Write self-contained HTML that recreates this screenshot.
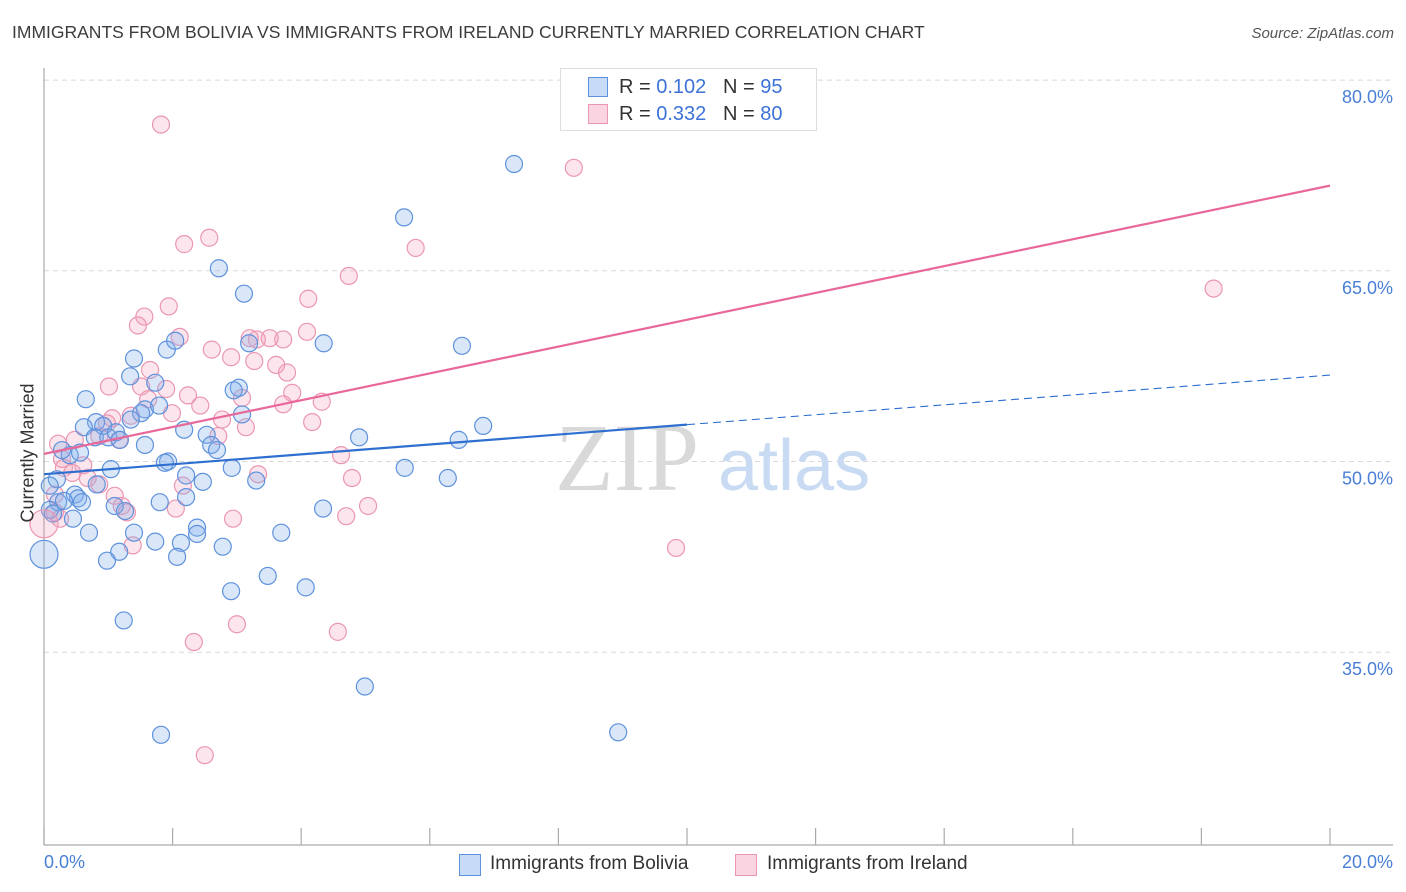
<!DOCTYPE html>
<html><head><meta charset="utf-8">
<style>
body{margin:0;background:#fff;font-family:"Liberation Sans",sans-serif;}
#wrap{position:relative;width:1406px;height:892px;overflow:hidden;}
.t{position:absolute;white-space:nowrap;}
</style></head>
<body>
<div id="wrap">
<div class="t" style="left:12px;top:22px;font-size:17.5px;color:#3c3c3c;">IMMIGRANTS FROM BOLIVIA VS IMMIGRANTS FROM IRELAND CURRENTLY MARRIED CORRELATION CHART</div>
<div class="t" style="right:12px;top:25px;font-size:15px;color:#555;font-style:italic;">Source: ZipAtlas.com</div>
<svg id="svg" width="1406" height="892" style="position:absolute;left:0;top:0"></svg>
</div>
<script>
const blueX=[7.31,5.60,2.72,3.11,4.35,6.50,1.91,2.04,1.40,3.19,1.34,1.73,3.03,2.95,0.65,1.57,1.51,1.79,1.35,0.81,0.62,0.92,0.79,1.00,1.12,1.18,2.18,3.08,2.53,2.60,2.69,4.90,6.45,6.83,1.57,0.40,0.56,0.28,1.93,1.88,1.04,2.21,2.92,3.30,5.61,6.28,0.20,0.82,0.48,0.53,0.59,0.22,0.31,0.09,1.10,1.26,1.80,2.21,2.47,4.34,0.45,0.70,0.14,1.40,1.73,2.13,2.38,2.38,2.78,3.69,1.17,0.98,2.07,3.48,4.07,2.91,1.24,4.99,1.82,8.93,0.09];
const blueY=[73.4,69.2,65.2,63.2,59.3,59.1,58.8,59.5,58.1,59.3,56.7,56.2,55.8,55.6,54.9,54.1,53.8,54.4,53.3,53.1,52.7,52.8,51.9,51.9,52.3,51.7,52.5,53.7,52.1,51.3,50.9,51.9,51.7,52.8,51.3,50.5,50.7,50.9,50.0,49.9,49.4,48.9,49.5,48.5,49.5,48.7,48.6,48.2,47.4,47.1,46.8,46.8,46.9,46.2,46.5,46.1,46.8,47.2,48.4,46.3,45.5,44.4,45.9,44.4,43.7,43.6,44.8,44.3,43.3,44.4,42.9,42.2,42.5,41.0,40.1,39.8,37.5,32.3,28.5,28.7,48.1];
const pinkX=[11.16,1.82,8.24,2.18,2.57,5.78,4.74,4.11,1.56,1.46,1.94,2.11,2.61,3.72,3.51,3.31,3.20,4.09,2.91,3.27,3.61,3.78,1.65,1.01,1.51,1.90,2.24,2.43,3.86,4.32,3.72,3.08,1.35,1.06,1.62,1.99,2.77,3.14,0.98,1.17,0.86,2.71,4.17,0.22,0.48,0.31,0.61,0.44,0.68,0.86,4.62,4.79,3.33,0.28,1.10,1.21,1.29,0.17,0.17,2.16,2.05,5.04,4.70,2.94,1.38,9.83,3.00,4.57,2.33,2.50,18.19,0.25];
const pinkY=[79.6,76.5,73.1,67.1,67.6,66.8,64.6,62.8,61.4,60.7,62.2,59.8,58.8,59.6,59.7,59.6,59.7,60.2,58.2,57.9,57.6,57.0,57.2,55.9,55.9,55.7,55.2,54.4,55.4,54.7,54.5,55.0,53.6,53.4,54.9,53.8,53.3,52.7,53.0,51.7,52.0,52.0,53.1,51.4,51.7,49.5,49.7,49.1,48.7,48.2,50.5,48.7,49.0,50.2,47.3,46.5,46.0,47.4,46.0,48.1,46.3,46.5,45.7,45.5,43.4,43.2,37.2,36.6,35.8,26.9,63.6,45.5];
const bigBlue=[0,42.7], bigPink=[0,45.1];
const blueTrend=[49.0,52.9,56.8]; // at x=0,10,20
const pinkTrend=[50.6,71.7]; // at x=0,20
const yTicks=[80,65,50,35];
const yTickLabels=["80.0%","65.0%","50.0%","35.0%"];

const NS="http://www.w3.org/2000/svg";
const svg=document.getElementById('svg');
const X=v=>44+v*(1286/20);
const Y=v=>461.5-(v-50)*(190.7/15);
function mk(tag,attrs,parent){const e=document.createElementNS(NS,tag);for(const k in attrs)e.setAttribute(k,attrs[k]);(parent||svg).appendChild(e);return e;}

// gridlines
yTicks.forEach((t,i)=>{
  const g=mk('line',{x1:44,x2:1393,y1:Y(t),y2:Y(t),stroke:'#d8d8d8','stroke-dasharray':'5,4','stroke-width':1});
  
  
  const tx=mk('text',{x:1393,y:Y(t)+23,'text-anchor':'end','font-size':18,fill:'#4a7fd6','font-family':'Liberation Sans'});
  tx.textContent=yTickLabels[i];
  
  
});
// axes
let a=mk('line',{x1:44,x2:44,y1:68,y2:845,stroke:'#aaa','stroke-width':1.2});


a=mk('line',{x1:44,x2:1393,y1:845,y2:845,stroke:'#aaa','stroke-width':1.2});


for(let i=0;i<=10;i++){
  const t=mk('line',{x1:X(i*2),x2:X(i*2),y1:828,y2:845,stroke:'#aaa','stroke-width':1.2});
  
  
}
// watermark
const wm=mk('text',{x:555,y:490,'font-size':96,fill:'#d9d9d9','font-family':'Liberation Serif'});
wm.textContent='ZIP';


const wm2=mk('text',{x:718,y:490,'font-size':72,fill:'#c9dbf3','font-family':'Liberation Sans'});
wm2.textContent='atlas';



function pts(xs,ys,fill,stroke,name){
  xs.forEach((x,i)=>{
    const c=mk('circle',{cx:X(x),cy:Y(ys[i]),r:8.5,fill:fill,stroke:stroke,'stroke-width':1.2});
    
    
  });
}
pts(pinkX,pinkY,'rgba(244,160,188,0.28)','#eb97b2','point-ireland');
pts(blueX,blueY,'rgba(130,175,235,0.3)','#5f92dc','point-bolivia');
let b=mk('circle',{cx:X(bigBlue[0]),cy:Y(bigBlue[1]),r:14,fill:'rgba(130,175,235,0.3)',stroke:'#5f92dc','stroke-width':1.2});


b=mk('circle',{cx:X(bigPink[0]),cy:Y(bigPink[1]),r:14,fill:'rgba(244,160,188,0.28)',stroke:'#eb97b2','stroke-width':1.2});



// trends
let l=mk('line',{x1:X(0),y1:Y(pinkTrend[0]),x2:X(20),y2:Y(pinkTrend[1]),stroke:'#e8689a','stroke-width':2.2});


l=mk('line',{x1:X(0),y1:Y(blueTrend[0]),x2:X(10),y2:Y(blueTrend[1]),stroke:'#2f6fd0','stroke-width':2.2});


l=mk('line',{x1:X(10),y1:Y(blueTrend[1]),x2:X(20),y2:Y(blueTrend[2]),stroke:'#2f6fd0','stroke-width':1.1,'stroke-dasharray':'8,5'});


</script>
<div class="t" style="left:44px;top:852px;font-size:18px;color:#4a7fd6;">0.0%</div>
<div class="t" style="right:13px;top:852px;font-size:18px;color:#4a7fd6;">20.0%</div>
<div class="t" style="left:-40px;top:444px;font-size:18px;color:#333;transform:rotate(-90deg);transform-origin:center;width:136px;text-align:center;">Currently Married</div>

<div style="position:absolute;left:560px;top:68px;width:255px;height:61px;border:1px solid #ddd;background:#fff;">
  <div style="position:absolute;left:27px;top:8px;width:18px;height:18px;background:rgba(130,175,235,0.45);border:1px solid #5f92dc;"></div>
  <div class="t" style="left:58px;top:7px;font-size:20px;color:#333;">R = <span style="color:#3d72d8">0.102</span>&nbsp;&nbsp;&nbsp;N = <span style="color:#3d72d8">95</span></div>
  <div style="position:absolute;left:27px;top:35px;width:18px;height:18px;background:rgba(244,160,188,0.45);border:1px solid #eb97b2;"></div>
  <div class="t" style="left:58px;top:34px;font-size:20px;color:#333;">R = <span style="color:#3d72d8">0.332</span>&nbsp;&nbsp;&nbsp;N = <span style="color:#3d72d8">80</span></div>
</div>

<div style="position:absolute;left:459px;top:854px;width:20px;height:20px;background:rgba(130,175,235,0.45);border:1px solid #5f92dc;"></div>
<div class="t" style="left:490px;top:853px;font-size:19px;color:#333;">Immigrants from Bolivia</div>
<div style="position:absolute;left:735px;top:854px;width:20px;height:20px;background:rgba(244,160,188,0.45);border:1px solid #eb97b2;"></div>
<div class="t" style="left:767px;top:853px;font-size:19px;color:#333;">Immigrants from Ireland</div>
</body></html>
